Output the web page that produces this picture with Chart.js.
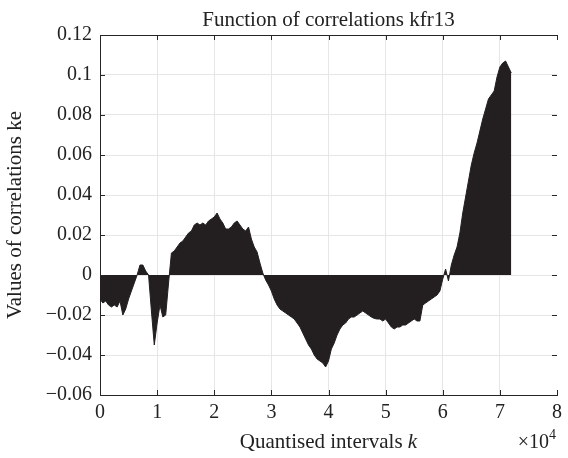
<!DOCTYPE html>
<html>
<head>
<meta charset="utf-8">
<script src="https://cdn.jsdelivr.net/npm/chart.js@4"></script>
<style>
    html, body { margin: 0; padding: 0; background: #fff; }
</style>
</head>
<body>
<canvas id="corrChart" width="568" height="458"></canvas>
<script>
// sample spacing of the correlation function (quantised intervals)
const STEP = 500;

// values of correlations ke, read every 500 intervals from k = 0 to k = 72000
const correlations = [
    -0.012, -0.014, -0.013, -0.015, -0.016, -0.015, -0.016, -0.013, -0.020, -0.017,
    -0.012, -0.008, -0.004, 0.000, 0.005, 0.005, 0.002, 0.000, -0.018, -0.035,
    -0.024, -0.015, -0.021, -0.020, -0.004, 0.011, 0.012, 0.014, 0.016, 0.017,
    0.019, 0.021, 0.022, 0.025, 0.026, 0.025, 0.026, 0.025, 0.027, 0.028,
    0.029, 0.031, 0.028, 0.026, 0.023, 0.023, 0.024, 0.026, 0.027, 0.025,
    0.023, 0.022, 0.024, 0.018, 0.014, 0.0115, 0.006, 0.001, -0.0025, -0.005,
    -0.008, -0.012, -0.015, -0.017, -0.018, -0.019, -0.020, -0.021, -0.022, -0.024,
    -0.026, -0.029, -0.032, -0.035, -0.037, -0.040, -0.042, -0.043, -0.044, -0.046,
    -0.043, -0.037, -0.034, -0.030, -0.027, -0.025, -0.024, -0.022, -0.021, -0.021,
    -0.020, -0.019, -0.018, -0.019, -0.020, -0.021, -0.0217, -0.022, -0.022, -0.023,
    -0.022, -0.024, -0.026, -0.027, -0.026, -0.026, -0.025, -0.025, -0.024, -0.023,
    -0.022, -0.023, -0.023, -0.015, -0.014, -0.013, -0.012, -0.011, -0.010, -0.008,
    -0.002, 0.003, -0.003, 0.005, 0.010, 0.014, 0.021, 0.031, 0.039, 0.047,
    0.055, 0.061, 0.066, 0.072, 0.078, 0.083, 0.088, 0.090, 0.092, 0.099,
    0.104, 0.106, 0.107, 0.104, 0.101
];

const xTicks = [0, 10000, 20000, 30000, 40000, 50000, 60000, 70000, 80000];
const xTickLabels = ["0", "1", "2", "3", "4", "5", "6", "7", "8"];
const yTicks = [-0.06, -0.04, -0.02, 0, 0.02, 0.04, 0.06, 0.08, 0.1, 0.12];
const yTickLabels = ["\u22120.06", "\u22120.04", "\u22120.02", "0", "0.02", "0.04", "0.06", "0.08", "0.1", "0.12"];

const chartTitle = "Function of correlations kfr13";
const xTitle = "Quantised intervals ";
const xTitleItalic = "k";
const yTitle = "Values of correlations ke";

const FONT = "'Liberation Serif', 'DejaVu Serif', serif";
const INK = "#231f20";
const AXIS = "#262626";
const GRID = "#e6e6e6";

const points = correlations.map((v, i) => ({ x: i * STEP, y: v }));

// title, axis labels, inward tick marks and the top box line
const matlabAxes = {
    id: "matlabAxes",
    afterDraw(chart) {
        const ctx = chart.ctx;
        const a = chart.chartArea;
        const xs = chart.scales.x;
        const ys = chart.scales.y;
        const tickLen = 5;

        ctx.save();
        ctx.strokeStyle = AXIS;
        ctx.lineWidth = 1;
        ctx.beginPath();
        ctx.moveTo(a.left, a.top + 0.5);
        ctx.lineTo(a.right, a.top + 0.5);
        xTicks.forEach(v => {
            const px = Math.round(xs.getPixelForValue(v)) + 0.5;
            ctx.moveTo(px, a.bottom);
            ctx.lineTo(px, a.bottom - tickLen);
            ctx.moveTo(px, a.top);
            ctx.lineTo(px, a.top + tickLen);
        });
        yTicks.forEach(v => {
            const py = Math.round(ys.getPixelForValue(v)) + 0.5;
            ctx.moveTo(a.left, py);
            ctx.lineTo(a.left + tickLen, py);
            ctx.moveTo(a.right, py);
            ctx.lineTo(a.right - tickLen, py);
        });
        ctx.stroke();

        ctx.fillStyle = "#222";
        ctx.textBaseline = "alphabetic";

        // title
        ctx.font = "21px " + FONT;
        ctx.textAlign = "center";
        ctx.fillText(chartTitle, (a.left + a.right) / 2, 26);

        // x axis title with italic k
        ctx.textAlign = "left";
        ctx.font = "21px " + FONT;
        const w1 = ctx.measureText(xTitle).width;
        ctx.font = "italic 21px " + FONT;
        const w2 = ctx.measureText(xTitleItalic).width;
        const startX = (a.left + a.right) / 2 - (w1 + w2) / 2;
        ctx.font = "21px " + FONT;
        ctx.fillText(xTitle, startX, 448);
        ctx.font = "italic 21px " + FONT;
        ctx.fillText(xTitleItalic, startX + w1, 448);

        // exponent marker
        ctx.font = "20px " + FONT;
        ctx.textAlign = "right";
        ctx.fillText("\u00d710", a.right - 8, 448);
        ctx.font = "14px " + FONT;
        ctx.textAlign = "left";
        ctx.fillText("4", a.right - 8, 439);

        // y axis title
        ctx.save();
        ctx.translate(21, (a.top + a.bottom) / 2);
        ctx.rotate(-Math.PI / 2);
        ctx.font = "21px " + FONT;
        ctx.textAlign = "center";
        ctx.fillText(yTitle, 0, 0);
        ctx.restore();

        ctx.restore();
    }
};

new Chart(document.getElementById("corrChart"), {
    type: "line",
    data: {
        datasets: [{
            data: points,
            borderColor: INK,
            backgroundColor: INK,
            borderWidth: 1,
            pointRadius: 0,
            tension: 0,
            fill: "origin"
        }]
    },
    options: {
        responsive: false,
        animation: false,
        layout: { padding: { left: 0, right: 9, top: 35, bottom: 0 } },
        plugins: {
            legend: { display: false },
            tooltip: { enabled: false },
            title: { display: false }
        },
        scales: {
            x: {
                type: "linear",
                min: 0,
                max: 80000,
                afterBuildTicks: scale => { scale.ticks = xTicks.map(v => ({ value: v })); },
                afterFit: scale => { scale.height = 63; },
                ticks: {
                    autoSkip: false,
                    maxRotation: 0,
                    padding: 6,
                    color: "#222",
                    font: { family: FONT, size: 20 },
                    callback: (value, index) => xTickLabels[index]
                },
                grid: {
                    drawTicks: false,
                    color: c => (c.tick && c.tick.value === 80000) ? "rgba(0,0,0,0)" : GRID
                },
                border: { display: true, color: AXIS, width: 1 }
            },
            y: {
                type: "linear",
                min: -0.06,
                max: 0.12,
                afterBuildTicks: scale => { scale.ticks = yTicks.map(v => ({ value: v })); },
                afterFit: scale => { scale.width = 100; },
                ticks: {
                    autoSkip: false,
                    padding: 8,
                    color: "#222",
                    font: { family: FONT, size: 20 },
                    callback: (value, index) => yTickLabels[index]
                },
                grid: { drawTicks: false, color: GRID },
                border: { display: true, color: AXIS, width: 1 }
            }
        }
    },
    plugins: [matlabAxes]
});
</script>
</body>
</html>
